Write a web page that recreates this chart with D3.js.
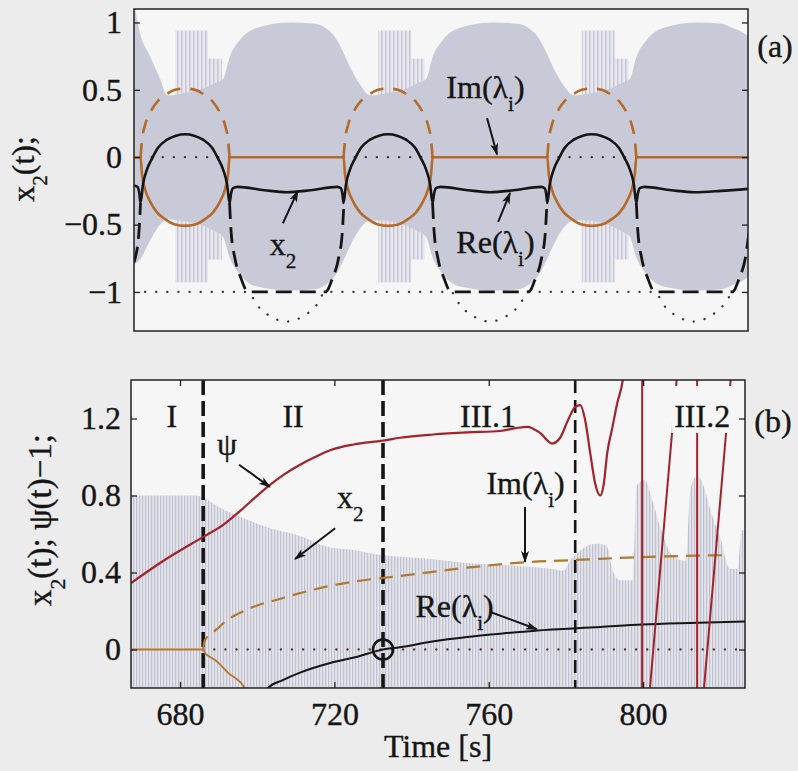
<!DOCTYPE html>
<html>
<head>
<meta charset="utf-8">
<script src="https://cdn.jsdelivr.net/npm/d3@7"></script>
<style>
  body { margin: 0; background: #ececec; }
  svg { display: block; font-family: "Liberation Serif", "Times New Roman", serif; }
  text { stroke: #151515; stroke-width: 0.35px; }
</style>
</head>
<body>
<svg id="fig" width="798" height="771"></svg>
<script>
// ---------- panel (a): periodic run, time in plot units (no x labels) ----------
// gray x2 envelope: [t, upper, lower]
const envA = [[0,1.15,-0.80],[1.56,0.92,-0.76],[4.17,0.75,-0.62],[6.8,0.58,-0.50],[8.6,0.46,-0.46],
  [12.0,0.47,-0.47],[17.2,0.50,-0.50],[21.1,0.55,-0.55],[23.2,0.58,-0.59],[25.0,0.75,-0.75],[27.6,0.87,-0.87],
  [32.1,0.96,-0.96],[40.7,1.0,-0.99],[47.2,0.99,-0.98],[49.8,0.96,-0.95],[52.4,0.89,-0.88],[54.5,0.78,-0.77],
  [56.3,0.67,-0.66],[58.9,0.54,-0.53],[61.5,0.46,-0.47],[64.9,0.47,-0.47],[70.1,0.50,-0.50],[74.0,0.55,-0.55],
  [76.1,0.58,-0.59],[77.9,0.75,-0.75],[80.5,0.87,-0.87],[85.0,0.96,-0.96],[93.6,1.0,-0.99],[100.1,0.99,-0.98],
  [102.7,0.96,-0.95],[105.3,0.89,-0.88],[107.4,0.78,-0.77],[109.2,0.67,-0.66],[111.8,0.54,-0.53],[114.6,0.46,-0.47],
  [118.0,0.47,-0.47],[123.2,0.50,-0.50],[127.1,0.55,-0.55],[129.2,0.58,-0.59],[131.0,0.75,-0.75],[133.6,0.87,-0.87],
  [138.1,0.96,-0.96],[146.7,1.0,-0.99],[153.2,0.99,-0.98],[155.8,0.96,-0.95],[158.4,0.93,-0.92],[160,0.90,-0.89]];
// fast-oscillation bursts: [t, upper, lower]
const burstA = [[10.7,0.94,-0.93],[19.3,0.73,-0.76],[22.9,0.73,-0.76], null,
  [63.6,0.94,-0.93],[72.2,0.73,-0.76],[75.8,0.73,-0.76], null,
  [116.7,0.94,-0.93],[125.3,0.73,-0.76],[128.9,0.73,-0.76]];
// Im(lambda) upper half (dashed)
const imUpA = [[1.7,0],[2.1,0.13],[2.9,0.24],[4.2,0.33],[6.0,0.41],[8.1,0.46],[10.7,0.50],[13.3,0.51],[15.9,0.50],
  [18.5,0.46],[20.6,0.41],[22.4,0.33],[23.7,0.24],[24.5,0.13],[24.9,0], null,
  [54.6,0],[55.0,0.13],[55.8,0.24],[57.1,0.33],[58.9,0.41],[61.0,0.46],[63.6,0.50],[66.2,0.51],[68.8,0.50],
  [71.4,0.46],[73.5,0.41],[75.3,0.33],[76.6,0.24],[77.4,0.13],[77.8,0], null,
  [107.7,0],[108.1,0.13],[108.9,0.24],[110.2,0.33],[112.0,0.41],[114.1,0.46],[116.7,0.50],[119.3,0.51],[121.9,0.50],
  [124.5,0.46],[126.6,0.41],[128.4,0.33],[129.7,0.24],[130.5,0.13],[130.9,0]];
// Im(lambda) lower half + zero stretches (solid)
const imLowA = [[0,0],[1.7,0],[2.1,-0.13],[2.9,-0.24],[4.2,-0.33],[6.0,-0.41],[8.1,-0.46],[10.7,-0.50],[13.3,-0.51],
  [15.9,-0.50],[18.5,-0.46],[20.6,-0.41],[22.4,-0.33],[23.7,-0.24],[24.5,-0.13],[24.9,0],[54.6,0],
  [55.0,-0.13],[55.8,-0.24],[57.1,-0.33],[58.9,-0.41],[61.0,-0.46],[63.6,-0.50],[66.2,-0.51],[68.8,-0.50],
  [71.4,-0.46],[73.5,-0.41],[75.3,-0.33],[76.6,-0.24],[77.4,-0.13],[77.8,0],[107.7,0],
  [108.1,-0.13],[108.9,-0.24],[110.2,-0.33],[112.0,-0.41],[114.1,-0.46],[116.7,-0.50],[119.3,-0.51],[121.9,-0.50],
  [124.5,-0.46],[126.6,-0.41],[128.4,-0.33],[129.7,-0.24],[130.5,-0.13],[130.9,0],[160,0]];
// Re(lambda) larger branch (solid black)
const reA = [[0,-0.21],[0.9,-0.22],[1.4,-0.27],[1.7,-0.34],[2.35,-0.2],[3.4,-0.09],[4.7,-0.01],[6.26,0.07],[8.6,0.13],
  [10.95,0.16],[13.3,0.17],[15.65,0.16],[18.0,0.13],[20.34,0.07],[21.9,-0.01],[23.2,-0.09],[24.25,-0.2],[24.9,-0.34],
  [25.3,-0.27],[25.8,-0.23],[27.0,-0.22],[34,-0.245],[39.8,-0.26],[46,-0.245],[53.0,-0.22],[53.9,-0.23],[54.3,-0.27],
  [54.6,-0.34],[55.25,-0.2],[56.3,-0.09],[57.6,-0.01],[59.16,0.07],[61.5,0.13],[63.85,0.16],[66.2,0.17],[68.55,0.16],
  [70.9,0.13],[73.24,0.07],[74.8,-0.01],[76.1,-0.09],[77.15,-0.2],[77.8,-0.34],[78.2,-0.27],[78.7,-0.23],[79.9,-0.22],
  [87,-0.245],[92.8,-0.26],[99,-0.245],[106.1,-0.22],[107.0,-0.23],[107.4,-0.27],[107.7,-0.34],[108.35,-0.2],
  [109.4,-0.09],[110.7,-0.01],[112.26,0.07],[114.6,0.13],[116.95,0.16],[119.3,0.17],[121.65,0.16],[124.0,0.13],
  [126.34,0.07],[127.9,-0.01],[129.2,-0.09],[130.25,-0.2],[130.9,-0.34],[131.3,-0.27],[131.8,-0.23],[133.0,-0.22],
  [140,-0.245],[146,-0.26],[153,-0.25],[160,-0.235]];
// Re(lambda) smaller branch, saturated at -1 (dashed black)
const reLowA = [[0,-0.78],[0.3,-0.75],[1.3,-0.55],[1.7,-0.34], null,
  [24.9,-0.34],[25.3,-0.55],[26.3,-0.75],[27.9,-0.9],[29.7,-1.0],[49.9,-1.0],[51.7,-0.9],[53.3,-0.75],[54.3,-0.55],[54.7,-0.34], null,
  [77.8,-0.34],[78.2,-0.55],[79.2,-0.75],[80.8,-0.9],[82.6,-1.0],[102.8,-1.0],[104.6,-0.9],[106.2,-0.75],[107.2,-0.55],[107.6,-0.34], null,
  [130.9,-0.34],[131.3,-0.55],[132.3,-0.75],[133.9,-0.9],[135.7,-1.0],[155.9,-1.0],[157.7,-0.9],[159.3,-0.75],[160.3,-0.55]];
// unsaturated smaller branch / -1 reference (dotted)
const reFreeA = [[0,-1],[29.7,-1],[32.1,-1.1],[35.5,-1.18],[39.8,-1.22],[44.1,-1.18],[47.5,-1.1],[49.9,-1],
  [82.6,-1],[85.0,-1.1],[88.4,-1.18],[92.7,-1.22],[97.0,-1.18],[100.4,-1.1],[102.8,-1],
  [135.7,-1],[138.1,-1.1],[141.5,-1.18],[145.8,-1.22],[150.1,-1.18],[153.5,-1.1],[155.9,-1]];
const zeroA = [[1.7,0],[24.9,0], null, [54.6,0],[77.8,0], null, [107.7,0],[130.9,0]];
const yTicksA = [-1, -0.5, 0, 0.5, 1];

// ---------- panel (b): transition, time in seconds ----------
const envB = [[667.3,0.80],[684,0.80],[686,0.79],[690,0.74],[695.6,0.69],[703.3,0.63],[711.1,0.59],[718.9,0.53],
  [724,0.52],[732.6,0.49],[738,0.48],[745,0.47],[754,0.45],[763,0.44],[770,0.43],[776,0.42],[779.5,0.41],[781,0.46],
  [784,0.52],[788,0.55],[790.5,0.54],[792,0.42],[794,0.36],[797.3,0.36],[798.3,0.85],[800.5,0.88],[802,0.80],
  [803.5,0.70],[805,0.60],[808,0.48],[811,0.46],[812.3,0.84],[814,0.90],[815.5,0.86],[817.5,0.72],[820,0.58],
  [822.5,0.42],[824.5,0.42],[825.5,0.62],[826.4,0.62]];
const psiB = [[667.3,0.345],[676,0.465],[686.0,0.585],[691,0.645],[695.6,0.72],[699.5,0.79],[703.3,0.855],[707,0.91],
  [711.1,0.96],[715,1.0],[718.9,1.035],[725,1.065],[732.6,1.085],[737.0,1.10],[745.6,1.117],[754.4,1.128],[763,1.135],
  [767,1.15],[770,1.157],[773.3,1.125],[776.4,1.07],[778.5,1.1],[780.5,1.19],[782.4,1.26],[783.7,1.27],[785,1.19],
  [786.3,1.02],[787.6,0.86],[788.9,0.80],[789.8,0.86],[790.7,1.02],[792,1.15],[793.3,1.28],[794.8,1.41],[795.3,1.5]];
const psiWrapB = [[[799.75,1.45],[799.75,-0.25]], [[801.56,-0.25],[808.9,1.45]],
  [[814.0,1.45],[814.0,-0.25]], [[815.56,-0.25],[822.9,1.45]]];
const imUpB = [[686.0,0],[686.4,0.045],[688.3,0.085],[689.8,0.11],[692,0.15],[695.0,0.185],[700.2,0.23],[705.4,0.26],
  [710.6,0.29],[717.6,0.325],[724.1,0.35],[736.2,0.38],[754.4,0.425],[770.7,0.455],[782.4,0.465],[799.2,0.48],[821.3,0.49]];
const imLowB = [[667.3,0],[686.0,0],[686.5,-0.02],[687.5,-0.035],[689.1,-0.055],[692.4,-0.12],[696.8,-0.2],[697.6,-0.23]];
const reB = [[702.0,-0.23],[702.8,-0.2],[706.5,-0.16],[711.1,-0.12],[718.9,-0.07],[725.4,-0.04],[732.6,0.0],[737.0,0.012],
  [745,0.04],[754.4,0.065],[763,0.082],[772,0.098],[788.9,0.117],[799.8,0.13],[812,0.138],[826.4,0.145]];
const zeroB = [[686.0,0],[826.4,0]];
const phaseLinesB = [686.0, 732.6, 782.4];
const hopfB = [[732.6, 0]];
const regionNames = ['I', 'II', 'III.1', 'III.2'];
const regionAt = [677.9, 709.3, 759.8, 815.3];
const yTicksB = [0, 0.4, 0.8, 1.2];
const xTicksB = [680, 720, 760, 800];

const notesA = [
  { text: [['Im(λ',0],['i',1],[')',0]], at: [81.4, 0.44], from: [92.0, 0.29], to: [94.6, 0.02] },
  { text: [['Re(λ',0],['i',1],[')',0]], at: [84.0, -0.71], from: [94.9, -0.48], to: [98.0, -0.265] },
  { text: [['x',0],['2',1]], at: [35.4, -0.725], from: [38.8, -0.49], to: [42.7, -0.25] }
];
const notesB = [
  { text: [['ψ',0]], at: [689.6, 1.01], from: [695.3, 0.96], to: [703.3, 0.845] },
  { text: [['x',0],['2',1]], at: [720.7, 0.735], from: [720.2, 0.63], to: [709.8, 0.47] },
  { text: [['Im(λ',0],['i',1],[')',0]], at: [759.4, 0.81], from: [769.4, 0.74], to: [769.4, 0.455] },
  { text: [['Re(λ',0],['i',1],[')',0]], at: [741.0, 0.17], from: [760.4, 0.195], to: [772.5, 0.105] }
];

// ---------- drawing ----------
const svg = d3.select('#fig');
const plotBg = '#f6f6f6';
const ink = '#151515';
const orange = '#b5692a';
const red = '#a3222b';
const fs = 32;

const xA = d3.scaleLinear().domain([0, 160]).range([134, 748]);
const yA = d3.scaleLinear().domain([-1.29, 1.10]).range([331, 9]);
const xB = d3.scaleLinear().domain([667.3, 826.4]).range([131, 745]);
const yB = d3.scaleLinear().domain([-0.2, 1.4]).range([688, 380]);

const defs = svg.append('defs');
function clip(id, x, y) {
  defs.append('clipPath').attr('id', id).append('rect')
    .attr('x', x.range()[0]).attr('y', y.range()[1])
    .attr('width', x.range()[1] - x.range()[0]).attr('height', y.range()[0] - y.range()[1]);
}
clip('clipA', xA, yA);
clip('clipB', xB, yB);

const stripe = defs.append('pattern').attr('id', 'stripeA')
  .attr('patternUnits', 'userSpaceOnUse').attr('width', 4).attr('height', 10);
stripe.append('rect').attr('width', 4).attr('height', 10).attr('fill', '#e8e8ee');
stripe.append('rect').attr('x', 1).attr('width', 1.6).attr('height', 10).attr('fill', '#c6c8d5');

const hatch = defs.append('pattern').attr('id', 'hatchB')
  .attr('patternUnits', 'userSpaceOnUse').attr('width', 3).attr('height', 10);
hatch.append('rect').attr('width', 3).attr('height', 10).attr('fill', '#e4e4eb');
hatch.append('rect').attr('x', 1).attr('width', 1.2).attr('height', 10).attr('fill', '#bfc1d1');

defs.append('marker').attr('id', 'arr').attr('viewBox', '0 0 12 10')
  .attr('refX', 11).attr('refY', 5).attr('markerWidth', 13).attr('markerHeight', 10)
  .attr('markerUnits', 'userSpaceOnUse').attr('orient', 'auto')
  .append('path').attr('d', 'M0,1 L12,5 L0,9 L3,5 Z').attr('fill', ink);

function lineGen(x, y, curve) {
  return d3.line().defined(d => d != null).x(d => x(d[0])).y(d => y(d[1])).curve(curve || d3.curveMonotoneX);
}

function richText(g, x, y, parts, size, anchor) {
  const t = g.append('text').attr('x', x).attr('y', y).attr('font-size', size)
    .attr('text-anchor', anchor || 'start').attr('fill', ink);
  let inSub = false;
  parts.forEach(([s, sub]) => {
    const ts = t.append('tspan').text(s);
    if (sub) ts.attr('font-size', size * 0.66);
    if (sub && !inSub) ts.attr('dy', size * 0.42);
    if (!sub && inSub) ts.attr('dy', -size * 0.42);
    inSub = !!sub;
  });
  return t;
}

function notes(g, list, x, y) {
  list.forEach(n => {
    richText(g, x(n.at[0]), y(n.at[1]), n.text, fs);
    g.append('line').attr('x1', x(n.from[0])).attr('y1', y(n.from[1]))
      .attr('x2', x(n.to[0])).attr('y2', y(n.to[1]))
      .attr('stroke', ink).attr('stroke-width', 2).attr('marker-end', 'url(#arr)');
  });
}

function styleAxis(g) {
  g.select('.domain').remove();
  g.attr('font-family', '"Liberation Serif", "Times New Roman", serif').attr('font-size', fs);
  g.selectAll('.tick line').attr('stroke', '#222').attr('stroke-width', 1.3);
  g.selectAll('.tick text').attr('fill', ink);
}

// ===== panel (a) =====
const pA = svg.append('g');
pA.append('rect').attr('x', xA(0)).attr('y', yA(1.10)).attr('width', xA(160) - xA(0))
  .attr('height', yA(-1.29) - yA(1.10)).attr('fill', plotBg);
const cA = pA.append('g').attr('clip-path', 'url(#clipA)');

cA.append('path').datum(burstA).attr('fill', 'url(#stripeA)')
  .attr('d', d3.area().defined(d => d != null).x(d => xA(d[0])).y0(d => yA(d[2])).y1(d => yA(d[1])).curve(d3.curveStepAfter));
cA.append('path').datum(envA).attr('fill', '#c9cad7')
  .attr('d', d3.area().x(d => xA(d[0])).y0(d => yA(d[2])).y1(d => yA(d[1])).curve(d3.curveMonotoneX));

const dotted = { 'stroke-dasharray': '0.1 11', 'stroke-linecap': 'round', 'stroke-width': 2.3 };
[reFreeA, zeroA].forEach(data => {
  const p = cA.append('path').datum(data).attr('fill', 'none').attr('stroke', '#333').attr('d', lineGen(xA, yA));
  Object.entries(dotted).forEach(([k, v]) => p.attr(k, v));
});
cA.append('path').datum(imLowA).attr('fill', 'none').attr('stroke', orange).attr('stroke-width', 2.6)
  .attr('d', lineGen(xA, yA));
cA.append('path').datum(imUpA).attr('fill', 'none').attr('stroke', orange).attr('stroke-width', 2.6)
  .attr('stroke-dasharray', '14 10').attr('d', lineGen(xA, yA));
cA.append('path').datum(reLowA).attr('fill', 'none').attr('stroke', ink).attr('stroke-width', 2.8)
  .attr('stroke-dasharray', '16 8').attr('d', lineGen(xA, yA));
cA.append('path').datum(reA).attr('fill', 'none').attr('stroke', ink).attr('stroke-width', 2.6)
  .attr('d', lineGen(xA, yA));

notes(pA, notesA, xA, yA);

pA.append('g').attr('transform', `translate(${xA(0)},0)`)
  .call(d3.axisLeft(yA).tickValues(yTicksA).tickSize(-6).tickPadding(12).tickFormat(d3.format('~g')))
  .call(styleAxis);
pA.append('g').attr('transform', `translate(${xA(160)},0)`)
  .call(d3.axisRight(yA).tickValues(yTicksA).tickSize(-6).tickFormat(''))
  .call(styleAxis);
pA.append('rect').attr('x', xA(0)).attr('y', yA(1.10)).attr('width', xA(160) - xA(0))
  .attr('height', yA(-1.29) - yA(1.10)).attr('fill', 'none').attr('stroke', '#222').attr('stroke-width', 1.5);

const labA = pA.append('g').attr('transform', 'translate(34,169) rotate(-90)');
richText(labA, 0, 0, [['x',0],['2',1],['(t);',0]], fs, 'middle');
pA.append('text').attr('x', 775).attr('y', 57).attr('font-size', fs).attr('text-anchor', 'middle')
  .attr('fill', ink).text('(a)');

// ===== panel (b) =====
const pB = svg.append('g');
pB.append('rect').attr('x', xB(667.3)).attr('y', yB(1.4)).attr('width', xB(826.4) - xB(667.3))
  .attr('height', yB(-0.2) - yB(1.4)).attr('fill', plotBg);
const cB = pB.append('g').attr('clip-path', 'url(#clipB)');

cB.append('path').datum(envB).attr('fill', 'url(#hatchB)')
  .attr('d', d3.area().x(d => xB(d[0])).y0(d => yB(-d[1])).y1(d => yB(d[1])).curve(d3.curveMonotoneX));

const zp = cB.append('path').datum(zeroB).attr('fill', 'none').attr('stroke', '#5a3626').attr('d', lineGen(xB, yB));
Object.entries(dotted).forEach(([k, v]) => zp.attr(k, v));

cB.selectAll('line.phase').data(phaseLinesB).join('line').attr('class', 'phase')
  .attr('x1', d => xB(d)).attr('x2', d => xB(d)).attr('y1', yB(1.4)).attr('y2', yB(-0.2))
  .attr('stroke', ink).attr('stroke-width', (d, i) => i < 2 ? 3.6 : 2.6)
  .attr('stroke-dasharray', (d, i) => i < 2 ? '15 6' : '13 7');

cB.append('path').datum(imLowB).attr('fill', 'none').attr('stroke', '#b8762a').attr('stroke-width', 1.8)
  .attr('d', lineGen(xB, yB));
cB.append('path').datum(imUpB).attr('fill', 'none').attr('stroke', '#b07a2e').attr('stroke-width', 2.2)
  .attr('stroke-dasharray', '14 8').attr('d', lineGen(xB, yB));
cB.append('path').datum(reB).attr('fill', 'none').attr('stroke', ink).attr('stroke-width', 2)
  .attr('d', lineGen(xB, yB));
cB.append('path').datum(psiB).attr('fill', 'none').attr('stroke', red).attr('stroke-width', 2.2)
  .attr('d', lineGen(xB, yB));
cB.selectAll('path.wrap').data(psiWrapB).join('path').attr('class', 'wrap')
  .attr('fill', 'none').attr('stroke', red).attr('stroke-width', 2)
  .attr('d', lineGen(xB, yB, d3.curveLinear));
cB.selectAll('circle.hopf').data(hopfB).join('circle').attr('class', 'hopf')
  .attr('cx', d => xB(d[0])).attr('cy', d => yB(d[1])).attr('r', 10)
  .attr('fill', 'none').attr('stroke', ink).attr('stroke-width', 2.6);

// region labels; the last one sits on a blank box, as in the original
regionNames.forEach((name, i) => {
  const t = pB.append('text').attr('x', xB(regionAt[i])).attr('y', yB(1.156)).attr('font-size', fs)
    .attr('text-anchor', 'middle').attr('fill', ink).text(name);
  if (i === regionNames.length - 1) {
    const b = t.node().getBBox();
    pB.insert('rect', () => t.node()).attr('x', b.x - 3).attr('y', b.y - 12)
      .attr('width', b.width + 6).attr('height', b.height + 11).attr('fill', plotBg);
  }
});

notes(pB, notesB, xB, yB);

pB.append('g').attr('transform', `translate(${xB(667.3)},0)`)
  .call(d3.axisLeft(yB).tickValues(yTicksB).tickSize(-6).tickPadding(10).tickFormat(d3.format('~g')))
  .call(styleAxis);
pB.append('g').attr('transform', `translate(${xB(826.4)},0)`)
  .call(d3.axisRight(yB).tickValues(yTicksB).tickSize(-6).tickFormat(''))
  .call(styleAxis);
pB.append('g').attr('transform', `translate(0,${yB(-0.2)})`)
  .call(d3.axisBottom(xB).tickValues(xTicksB).tickSize(-6).tickPadding(14).tickFormat(d3.format('d')))
  .call(styleAxis);
pB.append('g').attr('transform', `translate(0,${yB(1.4)})`)
  .call(d3.axisTop(xB).tickValues(xTicksB).tickSize(-6).tickFormat(''))
  .call(styleAxis);
pB.append('rect').attr('x', xB(667.3)).attr('y', yB(1.4)).attr('width', xB(826.4) - xB(667.3))
  .attr('height', yB(-0.2) - yB(1.4)).attr('fill', 'none').attr('stroke', '#222').attr('stroke-width', 1.5);

const labB = pB.append('g').attr('transform', 'translate(51,520) rotate(-90)');
richText(labB, 0, 0, [['x',0],['2',1],['(t); ψ(t)−1;',0]], fs + 1, 'middle');
pB.append('text').attr('x', (xB.range()[0] + xB.range()[1]) / 2).attr('y', 757).attr('font-size', fs)
  .attr('text-anchor', 'middle').attr('fill', ink).text('Time [s]');
pB.append('text').attr('x', 773).attr('y', 432).attr('font-size', fs).attr('text-anchor', 'middle')
  .attr('fill', ink).text('(b)');
</script>
</body>
</html>
